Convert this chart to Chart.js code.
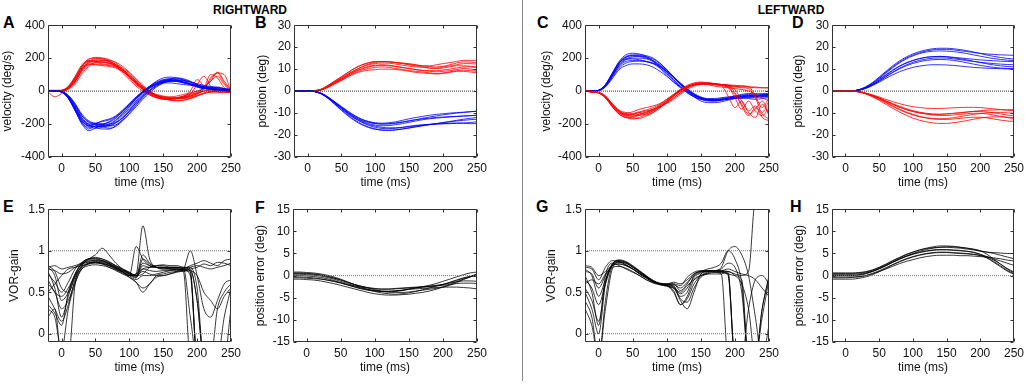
<!DOCTYPE html>
<html>
<head>
<meta charset="utf-8">
<script src="https://cdn.jsdelivr.net/npm/chart.js@4.4.1/dist/chart.umd.min.js"></script>
<style>
  html,body{margin:0;padding:0;background:#fff;}
  #wrap{position:relative;width:1028px;height:385px;overflow:hidden;background:#fff;font-family:"Liberation Sans",Arial,sans-serif;}
  canvas{position:absolute;}
  .lbl{position:absolute;font-weight:bold;color:#000;line-height:16px;font-size:16px;}
  .hdr{position:absolute;font-weight:bold;color:#000;font-size:12px;line-height:12px;transform:translateX(-50%);white-space:nowrap;}
  #divider{position:absolute;left:522px;top:0;width:1px;height:381px;background:#888;}
</style>
</head>
<body>
<div id="wrap">
  <div class="hdr" style="left:250px;top:4px;">RIGHTWARD</div>
  <div class="hdr" style="left:791px;top:4px;">LEFTWARD</div>
  <div id="divider"></div>
  <div class="lbl" style="left:3px;top:15px;">A</div>
  <div class="lbl" style="left:255px;top:15px;">B</div>
  <div class="lbl" style="left:537px;top:15px;">C</div>
  <div class="lbl" style="left:792px;top:15px;">D</div>
  <div class="lbl" style="left:3px;top:199px;">E</div>
  <div class="lbl" style="left:255px;top:200px;">F</div>
  <div class="lbl" style="left:536px;top:199px;">G</div>
  <div class="lbl" style="left:790px;top:199px;">H</div>
</div>
<script>
// ---------- DATA ----------
const time = [-20,-10,0,10,20,30,40,50,60,70,80,90,100,110,120,130,140,150,160,170,180,190,200,210,220,230,240,250];
const timeTicks = [0,50,100,150,200,250];
const velTicks = [-400,-200,0,200,400];
const posTicks = [-30,-20,-10,0,10,20,30];
const gainTicks = [0,0.5,1,1.5];
const errTicks = [-15,-10,-5,0,5,10,15];

// A: rightward velocity (deg/s)
const rightVelRed = [
  [0,0,2,20,70,150,195,200,195,180,150,110,70,30,0,-25,-40,-45,-45,-40,-30,-20,-10,0,5,5,0,-5],
  [0,0,5,30,90,160,185,180,175,170,150,120,80,40,10,-15,-30,-40,-45,-45,-40,-30,-15,0,10,10,5,0],
  [-5,-35,-15,15,60,130,170,180,185,180,160,130,90,50,15,-10,-25,-35,-40,-40,-35,-25,-10,20,60,90,40,-5],
  [5,5,5,25,80,140,165,160,155,150,140,120,90,55,20,-5,-20,-30,-40,-45,-45,-40,-20,10,80,110,50,0],
  [0,0,0,15,55,120,160,170,175,170,160,140,110,70,30,0,-25,-45,-55,-60,-55,-45,-30,-10,0,5,0,-5],
  [0,0,3,20,65,135,175,190,190,180,160,125,85,45,10,-20,-40,-50,-50,-45,-35,0,70,30,-10,-10,-5,0],
  [0,0,2,18,60,125,160,160,160,155,145,120,90,55,20,-10,-30,-40,-45,-40,-30,-15,0,20,100,80,20,0],
  [0,0,4,25,85,150,180,175,165,160,150,130,100,60,25,-5,-25,-35,-35,-30,-20,-10,0,20,60,110,100,0],
  [0,0,3,22,75,145,190,205,200,185,160,125,85,45,10,-20,-38,-48,-50,-48,-42,-35,-25,-15,-5,0,5,5],
  [0,0,1,12,45,105,150,175,185,185,175,150,115,75,35,0,-28,-45,-55,-58,-55,-45,-30,-15,-5,0,-5,-10],
  [0,0,2,16,58,128,178,198,200,192,170,135,92,50,12,-18,-36,-45,-48,-46,-40,-30,-15,15,70,115,60,5],
  [0,0,3,24,80,150,182,185,178,168,155,132,100,62,25,-8,-30,-42,-46,-44,-36,-20,40,90,30,-5,-10,-5]
];
const rightVelBlue = [
  [0,0,-5,-40,-110,-190,-230,-210,-200,-190,-165,-125,-80,-40,0,30,55,70,75,70,55,40,25,15,10,10,5,0],
  [0,0,-5,-35,-100,-170,-200,-200,-200,-210,-190,-150,-105,-60,-15,20,45,60,65,60,50,40,30,20,15,10,10,5],
  [0,0,-3,-30,-90,-160,-200,-220,-230,-230,-210,-170,-120,-70,-25,15,45,65,75,80,75,60,40,25,15,10,5,0],
  [0,0,-5,-45,-120,-195,-220,-200,-180,-170,-150,-115,-75,-35,0,25,40,50,50,45,40,35,30,25,20,15,10,5],
  [0,0,-4,-35,-95,-165,-205,-215,-215,-210,-195,-160,-115,-70,-30,5,35,55,70,75,70,55,35,20,10,5,5,0],
  [0,0,-6,-45,-115,-185,-210,-195,-185,-175,-155,-120,-80,-40,-5,25,50,65,70,65,55,40,25,15,20,25,15,5],
  [0,0,-5,-40,-105,-175,-210,-215,-210,-200,-175,-135,-90,-45,-5,30,60,80,85,80,65,45,30,20,15,10,5,0],
  [0,0,-3,-30,-85,-150,-190,-205,-215,-225,-215,-180,-135,-85,-40,0,30,50,60,60,55,45,35,25,20,15,10,5],
  [0,0,-4,-38,-108,-180,-215,-225,-220,-205,-180,-140,-95,-50,-10,20,40,55,60,58,50,42,35,30,25,20,15,10],
  [0,0,-2,-25,-75,-140,-180,-195,-200,-200,-190,-165,-125,-80,-35,5,35,55,65,68,65,55,40,25,15,10,5,0],
  [0,0,-4,-42,-118,-200,-240,-225,-205,-185,-160,-125,-85,-45,-8,25,48,62,66,62,52,40,28,18,12,8,5,2],
  [0,0,-3,-28,-82,-148,-185,-200,-208,-212,-205,-178,-140,-95,-50,-10,25,48,60,64,62,55,45,35,28,22,15,10]
];
// B: rightward position (deg)
const rightPosRed = [
  [0,0,0,0.2,0.8,2.5,4.5,6.5,8.5,10.5,12,13,13.5,13.5,13.3,13,12.8,12.5,12,11.5,11.5,12,12.5,13,13.5,14,14,14],
  [0,0,0,0.2,0.8,2.3,4.2,6,8,9.5,11,12,12.5,12.8,12.7,12.3,11.8,11.3,11,10.8,10.5,10.5,11,11.5,12,12.5,12.5,12.3],
  [0,0,0,0.1,0.6,2,3.8,5.5,7.3,9,10.3,11.3,11.8,12,11.8,11.3,10.8,10.3,9.8,9.5,9.3,9.3,9.6,10,10.5,11,11,10.5],
  [0,0,0,0.1,0.5,1.8,3.5,5,6.8,8.3,9.5,10.3,10.8,11,10.8,10.3,9.8,9.3,9,8.7,8.3,8,8.3,8.8,9.3,9.5,9.3,9],
  [0,0,0,0.2,0.7,2.2,4,5.8,7.7,9.5,11,12.3,13,13.3,13.3,13,12.5,12,11.5,11,10.5,10.3,10.5,11,11.5,11.5,11.3,11],
  [0,0,0,0.1,0.5,1.6,3.2,4.8,6.5,8,9,9.5,9.8,10,10,9.8,9.5,9,8.5,8.2,8,7.8,8,8.5,9,9,8.7,8.3],
  [0,0,0,0.2,0.9,2.6,4.6,6.6,8.6,10.4,11.8,12.8,13.3,13.5,13.4,13,12.6,12.2,11.8,11.5,11.2,11,11.3,12,12.8,13.3,13.2,13],
  [0,0,0,0.1,0.6,2,3.7,5.4,7.2,8.8,10,11,11.5,11.7,11.5,11.2,10.7,10.2,9.7,9.3,9,8.8,9,9.3,9.8,10.3,10,9.5]
];
const rightPosBlue = [
  [0,0,0,-0.2,-1.2,-3,-5.5,-8,-10.5,-12.5,-14,-15.2,-16,-16.5,-16.7,-16.7,-16.5,-16.2,-15.8,-15.5,-15.2,-15,-14.8,-14.6,-14.5,-14.5,-14.3,-14],
  [0,0,0,-0.2,-1,-2.8,-5,-7.5,-9.8,-11.8,-13.3,-14.3,-14.8,-15,-14.8,-14.5,-14,-13.5,-13,-12.6,-12.3,-12,-11.8,-11.6,-11.5,-11.3,-11.2,-11],
  [0,0,0,-0.2,-1.2,-3.2,-5.8,-8.5,-11,-13.2,-15,-16.3,-17.2,-17.7,-17.8,-17.6,-17.2,-16.7,-16.2,-15.7,-15.2,-14.8,-14.4,-14,-13.6,-13.3,-13,-12.8],
  [0,0,0,-0.1,-0.9,-2.6,-4.8,-7,-9.2,-11.2,-12.8,-13.8,-14.4,-14.6,-14.4,-14,-13.3,-12.6,-12,-11.5,-11,-10.6,-10.3,-10,-9.8,-9.6,-9.4,-9.2],
  [0,0,0,-0.2,-1.1,-3,-5.4,-7.9,-10.3,-12.4,-14.2,-15.6,-16.5,-17,-17.1,-16.9,-16.5,-16,-15.6,-15.3,-15.1,-15,-14.9,-14.8,-14.7,-14.7,-14.8,-14.8],
  [0,0,0,-0.2,-1,-2.9,-5.2,-7.6,-10,-12,-13.6,-14.8,-15.5,-15.8,-15.7,-15.3,-14.8,-14.2,-13.6,-13,-12.6,-12.3,-12,-11.8,-11.6,-11.4,-11.2,-11],
  [0,0,0,-0.2,-1.3,-3.3,-6,-8.8,-11.4,-13.6,-15.3,-16.6,-17.4,-17.8,-17.9,-17.7,-17.3,-16.8,-16.3,-15.8,-15.3,-14.8,-14.3,-13.8,-13.3,-12.8,-12.4,-12],
  [0,0,0,-0.1,-1,-2.7,-5,-7.3,-9.5,-11.4,-12.9,-14,-14.7,-15,-15,-14.7,-14.2,-13.6,-13,-12.4,-11.8,-11.3,-10.8,-10.4,-10,-9.7,-9.4,-9.1]
];
// C: leftward velocity (deg/s)
const leftVelBlue = [
  [0,0,5,40,110,180,220,230,225,210,180,140,95,55,20,-10,-35,-50,-55,-55,-50,-45,-40,-35,-35,-30,-30,-25],
  [0,0,4,35,100,170,205,215,215,205,185,150,110,70,30,0,-25,-40,-50,-50,-45,-40,-35,-30,-30,-30,-25,-20],
  [0,0,3,25,75,130,155,165,165,160,145,120,90,55,25,-5,-30,-45,-55,-55,-50,-40,-30,-20,-15,-15,-20,-20],
  [0,0,5,38,105,175,210,220,220,215,200,170,130,85,40,0,-35,-60,-70,-70,-65,-55,-45,-40,-45,-50,-45,-40],
  [0,0,4,30,90,155,190,200,200,195,180,155,120,80,40,5,-25,-45,-55,-60,-55,-50,-45,-45,-40,-40,-35,-35],
  [0,0,5,40,105,170,195,195,190,180,165,140,105,65,25,-10,-35,-50,-60,-60,-55,-45,-35,-30,-25,-30,-35,-30],
  [0,0,4,32,90,150,180,185,185,180,170,150,120,85,50,15,-15,-35,-45,-45,-40,-35,-30,-25,-20,-20,-15,-15],
  [0,0,5,36,100,168,205,215,210,200,185,160,125,85,45,10,-20,-40,-50,-52,-50,-45,-40,-35,-30,-25,-25,-20],
  [0,0,4,34,95,160,195,208,212,208,195,168,130,88,45,8,-22,-42,-52,-56,-54,-48,-42,-38,-36,-34,-30,-28],
  [0,0,3,28,82,140,170,180,182,178,168,148,118,82,45,10,-20,-40,-52,-56,-54,-48,-40,-32,-28,-26,-24,-22]
];
const leftVelRed = [
  [0,-5,-10,-35,-85,-130,-150,-160,-145,-130,-110,-85,-55,-25,5,30,45,50,50,45,40,30,-40,-110,-60,-120,-150,-100],
  [0,-5,-8,-30,-75,-115,-130,-135,-125,-115,-100,-80,-50,-20,5,25,40,45,45,40,40,35,30,30,25,20,20,20],
  [5,0,-10,-40,-95,-140,-160,-155,-140,-125,-110,-90,-60,-25,10,35,50,55,50,45,35,-30,-100,-60,-120,-90,-160,-180],
  [0,-3,-8,-30,-80,-125,-140,-140,-130,-120,-110,-95,-75,-50,-20,10,30,40,45,40,35,30,25,20,15,-40,-130,-60],
  [0,-5,-12,-40,-90,-135,-155,-165,-165,-150,-130,-100,-65,-30,0,25,40,45,45,40,35,20,-20,-80,-140,-110,-60,-150],
  [0,-5,-10,-35,-80,-120,-135,-125,-110,-100,-90,-75,-50,-20,10,30,40,45,40,30,25,20,15,10,0,-20,-40,-60],
  [0,-4,-10,-38,-88,-130,-145,-140,-130,-145,-130,-100,-65,-30,0,25,38,42,40,38,35,25,10,-60,-130,-160,-80,-140],
  [0,-5,-9,-32,-78,-120,-140,-145,-140,-130,-115,-95,-70,-40,-10,20,40,50,50,45,40,35,30,25,25,25,20,20],
  [0,-4,-9,-33,-82,-125,-145,-150,-148,-138,-122,-100,-72,-42,-10,18,36,44,46,44,40,34,-10,-90,-150,-100,-140,-170],
  [0,-6,-12,-42,-95,-140,-160,-170,-160,-140,-118,-92,-62,-30,0,24,38,44,44,42,40,38,35,32,28,-30,-100,-40]
];
// D: leftward position (deg)
const leftPosBlue = [
  [0,0,0,0.1,0.6,1.8,3.6,6,8.6,11,13.2,15,16.4,17.5,18.3,18.8,19,19,18.8,18.4,18,17.6,17.2,16.9,16.7,16.5,16.4,16.3],
  [0,0,0,0.1,0.5,1.6,3.2,5.3,7.5,9.6,11.4,12.9,14,14.8,15.4,15.7,15.8,15.7,15.4,15.1,14.8,14.5,14.2,14,13.8,13.6,13.5,13.4],
  [0,0,0,0.1,0.4,1.2,2.5,4.1,5.8,7.4,8.8,9.9,10.8,11.4,11.8,12,12,11.9,11.7,11.4,11.1,10.8,10.6,10.4,10.3,10.2,10.1,10],
  [0,0,0,0.1,0.6,1.7,3.4,5.7,8.2,10.6,12.8,14.6,16,17.1,17.8,18.2,18.3,18.2,18,17.6,17.1,16.5,15.9,15.3,14.8,14.4,14.1,13.9],
  [0,0,0,0.1,0.5,1.5,3,5,7.2,9.3,11.2,12.7,13.9,14.8,15.4,15.7,15.8,15.6,15.2,14.7,14.2,13.6,13,12.4,11.9,11.5,11.2,11],
  [0,0,0,0.1,0.7,2,3.9,6.4,9,11.5,13.7,15.5,16.9,18,18.8,19.3,19.5,19.5,19.3,18.9,18.4,17.8,17.1,16.4,15.8,15.3,14.9,14.6],
  [0,0,0,0.1,0.5,1.4,2.8,4.6,6.6,8.6,10.4,11.9,13.1,14,14.6,15,15.1,15,14.7,14.3,13.9,13.5,13.1,12.8,12.5,12.3,12.1,12],
  [0,0,0,0.1,0.4,1.3,2.7,4.5,6.5,8.4,10.1,11.5,12.6,13.4,14,14.3,14.4,14.3,14,13.5,12.9,12.3,11.7,11.2,10.8,10.5,10.3,10.2]
];
const leftPosRed = [
  [0,0,0,0,-0.3,-1,-2,-3.3,-4.7,-6,-7.3,-8.4,-9.3,-10,-10.5,-10.9,-11.1,-11.1,-10.9,-10.6,-10.3,-10.1,-10.1,-10.4,-10.9,-11.5,-12.1,-12.5],
  [0,0,0,0,-0.4,-1.2,-2.4,-3.8,-5.4,-7,-8.5,-9.8,-10.9,-11.7,-12.3,-12.7,-12.9,-12.9,-12.7,-12.4,-12.1,-11.9,-11.9,-12.2,-12.7,-13.2,-13.6,-13.8],
  [0,0,0,0,-0.3,-0.9,-1.7,-2.7,-3.8,-4.8,-5.7,-6.5,-7.1,-7.5,-7.8,-7.9,-7.9,-7.8,-7.6,-7.5,-7.4,-7.4,-7.5,-7.8,-8.1,-8.4,-8.7,-9],
  [0,0,0,0,-0.4,-1.3,-2.6,-4.2,-6,-7.8,-9.5,-11,-12.3,-13.3,-14,-14.5,-14.7,-14.7,-14.4,-14,-13.4,-12.8,-12.3,-11.9,-11.7,-11.7,-11.9,-12.1],
  [0,0,0,0,-0.3,-1,-2,-3.2,-4.6,-6,-7.3,-8.4,-9.3,-9.9,-10.3,-10.6,-10.6,-10.4,-10.1,-9.8,-9.5,-9.3,-9.3,-9.5,-9.9,-10.4,-10.9,-11.3],
  [0,0,0,0,-0.4,-1.1,-2.2,-3.6,-5.1,-6.7,-8.2,-9.5,-10.6,-11.5,-12.1,-12.5,-12.6,-12.5,-12.1,-11.6,-11.1,-10.6,-10.2,-9.9,-9.7,-9.7,-9.9,-10.1],
  [0,0,0,0,-0.3,-1,-1.9,-3.1,-4.4,-5.7,-6.9,-8,-8.9,-9.6,-10.1,-10.4,-10.5,-10.4,-10.2,-9.9,-9.6,-9.2,-8.9,-8.7,-8.6,-8.5,-8.5,-8.4]
];
// E: rightward VOR gain
const rightGain = [
  [0.75,0.55,0.2,0.45,0.7,0.85,0.9,0.9,0.88,0.84,0.8,0.76,0.72,0.68,0.82,0.8,0.8,0.8,0.8,0.8,0.79,0.75,-0.3,-0.3,-0.3,-0.3,-0.3,-0.3],
  [0.8,0.82,0.78,0.8,0.82,0.85,0.87,0.88,0.87,0.84,0.8,0.76,0.73,0.7,0.85,0.82,0.8,0.78,0.78,0.77,0.77,0.76,0.4,-0.3,-0.3,-0.3,0.2,0.55],
  [0.3,0.2,-0.2,0.3,0.6,0.8,0.85,0.86,0.85,0.82,0.78,0.74,0.7,0.72,1.3,0.9,0.8,0.78,0.78,0.78,0.77,0.7,-0.3,-0.3,-0.3,-0.3,-0.3,-0.3],
  [0.65,0.5,0.45,0.55,0.7,0.8,0.85,0.87,0.88,0.85,0.8,0.75,0.7,1.05,0.9,0.82,0.8,0.8,0.8,0.8,0.8,0.8,0.55,-0.3,-0.3,0.3,0.5,0.6],
  [0.5,0.6,0.7,0.78,0.8,0.82,0.84,0.85,0.84,0.82,0.79,0.75,0.68,0.62,0.5,0.6,0.68,0.7,0.72,0.75,0.78,0.82,0.85,0.88,0.85,0.82,0.88,0.9],
  [0.8,0.7,0.4,0.5,0.72,0.85,0.9,0.92,0.9,0.87,0.82,0.78,0.74,0.7,0.75,0.72,0.7,0.7,0.72,0.74,0.76,0.8,0.82,0.8,0.78,0.8,0.82,0.85],
  [0.45,0.3,0.15,0.35,0.65,0.78,0.82,0.83,0.82,0.8,0.76,0.72,0.68,0.62,0.55,0.6,0.7,0.72,0.74,0.75,0.78,1.0,0.7,0.3,0.2,0.4,0.6,0.65],
  [0.82,0.75,0.55,0.5,0.68,0.82,0.9,0.95,1.03,0.95,0.85,0.78,0.72,0.7,0.95,0.85,0.8,0.8,0.78,0.78,0.76,0.74,-0.3,-0.3,-0.3,-0.3,-0.3,-0.3],
  [0.6,0.5,0.3,0.4,0.62,0.78,0.84,0.86,0.85,0.82,0.78,0.74,0.7,0.65,0.7,0.7,0.72,0.74,0.76,0.78,0.74,-0.3,-0.3,-0.3,-0.3,-0.3,-0.3,-0.3],
  [0.2,0.3,-0.3,-0.3,0.6,0.82,0.9,0.91,0.9,0.86,0.82,0.78,0.74,0.7,0.72,0.8,0.82,0.82,0.8,0.8,0.78,0.76,0.7,0.5,0.4,0.3,0.45,0.55],
  [0.78,0.76,0.72,0.74,0.8,0.84,0.86,0.86,0.84,0.8,0.77,0.73,0.7,0.72,0.78,0.76,0.75,0.76,0.76,0.76,0.75,0.78,0.8,0.84,0.82,0.86,0.85,0.82],
  [0.35,0.25,0.1,0.5,0.72,0.84,0.88,0.88,0.86,0.83,0.79,0.75,0.71,0.67,0.9,0.84,0.8,0.79,0.79,0.79,0.78,0.2,-0.3,-0.3,-0.3,-0.3,-0.3,-0.3],
  [0.72,0.62,0.5,0.62,0.78,0.86,0.9,0.9,0.88,0.85,0.81,0.77,0.73,0.69,0.78,0.8,0.82,0.83,0.82,0.82,0.8,0.78,0.4,-0.3,-0.3,-0.3,-0.3,0.3]
];
// F: rightward position error (deg)
const rightErr = [
  [0.8,0.8,0.7,0.6,0.4,0.1,-0.3,-0.8,-1.4,-2,-2.6,-3.1,-3.4,-3.6,-3.7,-3.6,-3.4,-3.1,-2.8,-2.5,-2.2,-1.8,-1.3,-0.8,-0.3,0.2,0.6,0.8],
  [0.3,0.3,0.2,0.1,-0.1,-0.4,-0.8,-1.3,-1.8,-2.3,-2.8,-3.2,-3.6,-3.9,-4.1,-4.2,-4.1,-3.9,-3.6,-3.2,-2.8,-2.4,-2,-1.5,-1,-0.5,-0.2,0],
  [-0.3,-0.3,-0.4,-0.5,-0.7,-1,-1.3,-1.7,-2.1,-2.5,-2.9,-3.2,-3.4,-3.5,-3.5,-3.4,-3.3,-3.1,-3,-2.9,-2.8,-2.7,-2.6,-2.6,-2.6,-2.7,-2.8,-3],
  [-0.8,-0.8,-0.9,-1,-1.2,-1.5,-1.8,-2.2,-2.6,-3,-3.4,-3.8,-4.1,-4.3,-4.4,-4.4,-4.3,-4.2,-4,-3.8,-3.5,-3.1,-2.6,-2,-1.4,-0.8,-0.3,0.2],
  [0.5,0.5,0.4,0.3,0.1,-0.2,-0.6,-1,-1.5,-2,-2.4,-2.7,-2.9,-3,-3,-2.9,-2.8,-2.7,-2.6,-2.5,-2.4,-2.3,-2.2,-2,-1.8,-1.7,-1.7,-1.8],
  [0,0,-0.1,-0.2,-0.4,-0.7,-1.1,-1.6,-2.1,-2.6,-3,-3.3,-3.5,-3.6,-3.6,-3.5,-3.3,-3,-2.8,-2.6,-2.4,-2.2,-2,-1.6,-1.1,-0.6,-0.2,0.4],
  [-0.5,-0.5,-0.6,-0.7,-0.8,-1,-1.3,-1.6,-2,-2.3,-2.6,-2.8,-3,-3.1,-3.1,-3,-2.9,-2.8,-2.7,-2.6,-2.5,-2.3,-2,-1.7,-1.4,-1.2,-1.2,-1.3],
  [0.6,0.6,0.5,0.4,0.2,-0.1,-0.5,-1,-1.5,-2,-2.4,-2.8,-3.2,-3.5,-3.7,-3.8,-3.8,-3.7,-3.5,-3.3,-3.1,-2.9,-2.6,-2.2,-1.6,-0.9,-0.3,0.3]
];
// G: leftward VOR gain
const leftGain = [
  [0.7,0.5,0.1,0.7,0.85,0.82,0.78,0.74,0.7,0.65,0.62,0.6,0.58,0.55,0.45,0.5,0.7,0.75,0.75,0.74,0.72,-0.3,-0.3,-0.3,-0.3,-0.3,-0.3,-0.3],
  [0.8,0.78,0.65,0.8,0.88,0.87,0.83,0.78,0.73,0.68,0.63,0.6,0.6,0.6,0.52,0.6,0.72,0.75,0.76,0.76,0.8,1.0,1.05,0.95,0.7,0.2,-0.3,-0.3],
  [0.4,0.2,-0.3,0.4,0.82,0.88,0.86,0.81,0.75,0.69,0.63,0.59,0.58,0.56,0.4,0.3,0.5,0.72,0.75,0.76,0.76,0.75,0.72,0.7,0.75,1.6,1.6,1.6],
  [0.6,0.65,0.6,0.72,0.8,0.81,0.79,0.75,0.7,0.65,0.61,0.59,0.57,0.55,0.5,0.58,0.65,0.7,0.73,0.76,0.75,0.72,-0.3,-0.3,0.3,0.65,0.7,0.6],
  [0.5,0.3,0,0.6,0.82,0.86,0.83,0.78,0.72,0.67,0.63,0.6,0.58,0.5,0.35,0.45,0.65,0.7,0.72,0.72,0.72,0.75,0.7,0.6,0.3,-0.3,0.2,0.65],
  [0.75,0.72,0.55,0.7,0.82,0.84,0.82,0.78,0.72,0.67,0.62,0.6,0.6,0.62,0.6,0.65,0.72,0.75,0.78,0.8,0.85,1.0,0.9,0.6,-0.3,-0.3,-0.3,-0.3],
  [0.55,0.4,0.15,0.62,0.84,0.87,0.85,0.8,0.74,0.68,0.63,0.6,0.59,0.58,0.42,0.38,0.55,0.68,0.72,0.74,0.74,0.7,-0.3,-0.3,-0.3,-0.3,-0.3,0.1],
  [0.82,0.8,0.7,0.75,0.82,0.84,0.82,0.78,0.73,0.68,0.63,0.6,0.59,0.59,0.55,0.62,0.7,0.74,0.76,0.76,0.76,0.78,0.75,0.72,0.7,0.65,0.55,0.45],
  [0.3,0.1,-0.3,0.3,0.78,0.86,0.85,0.8,0.75,0.69,0.64,0.6,0.58,0.52,0.35,0.42,0.6,0.7,0.74,0.75,0.75,0.74,-0.3,-0.3,-0.3,-0.3,0.3,0.7],
  [0.65,0.55,0.35,0.6,0.83,0.88,0.86,0.81,0.75,0.69,0.64,0.6,0.59,0.57,0.48,0.55,0.68,0.73,0.75,0.76,0.78,0.85,0.8,0.5,-0.3,-0.3,0.3,0.68],
  [0.78,0.7,0.45,0.65,0.84,0.89,0.87,0.82,0.76,0.7,0.64,0.61,0.6,0.6,0.58,0.68,0.74,0.76,0.76,0.75,0.74,0.72,0.7,0.65,-0.3,-0.3,-0.3,-0.3]
];
// H: leftward position error (deg)
const leftErr = [
  [0.6,0.6,0.6,0.6,0.7,0.9,1.3,1.9,2.6,3.4,4.1,4.8,5.3,5.8,6.1,6.3,6.4,6.4,6.3,6.2,6,5.8,5.5,5.3,5.2,5.1,5,5],
  [0.3,0.3,0.3,0.3,0.4,0.6,1,1.6,2.3,3,3.7,4.3,4.8,5.2,5.5,5.7,5.8,5.8,5.7,5.6,5.5,5.3,4.8,4,3,2,1,0.3],
  [-0.3,-0.3,-0.3,-0.3,-0.2,0,0.4,0.9,1.5,2.1,2.7,3.2,3.6,4,4.3,4.5,4.6,4.6,4.6,4.5,4.5,4.4,4.3,4.2,4,3.8,3.5,3.3],
  [0,0,0,0,0.1,0.4,0.9,1.5,2.2,3,3.7,4.4,5,5.5,5.9,6.2,6.4,6.5,6.5,6.4,6.2,6,5.6,4.8,3.7,2.6,1.5,0.6],
  [-0.8,-0.8,-0.8,-0.8,-0.6,-0.3,0.2,0.9,1.6,2.4,3.1,3.7,4.2,4.6,4.9,5.1,5.2,5.2,5.1,5,4.9,4.8,4.6,4.2,3.5,2.6,1.6,0.8],
  [0.5,0.5,0.5,0.5,0.6,0.8,1.2,1.8,2.5,3.3,4,4.7,5.3,5.8,6.2,6.5,6.7,6.7,6.6,6.4,6.2,5.9,5.6,5.3,5,4.6,4.2,3.8],
  [-0.5,-0.5,-0.5,-0.4,-0.3,0,0.5,1.1,1.8,2.5,3.2,3.8,4.3,4.7,5,5.2,5.3,5.3,5.2,5.1,5,4.8,4.5,4,3.2,2.2,1.2,0.4],
  [0.1,0.1,0.1,0.1,0.2,0.5,1,1.6,2.3,3.1,3.8,4.4,4.9,5.3,5.6,5.8,5.9,5.9,5.8,5.7,5.5,5.2,4.8,4.3,3.8,3.3,2.8,2.3]
];

// ---------- RENDERING ----------
const FONT = {family:'"Liberation Sans", Arial, sans-serif', size:12};
const RED = 'rgba(255,0,0,0.8)', BLUE = 'rgba(0,0,255,0.8)', BLACK = 'rgba(0,0,0,0.78)';

const matlabFrame = {
  id:'matlabFrame',
  afterDatasetsDraw(chart){
    const {ctx, chartArea:a, scales:{x,y}} = chart;
    ctx.save();
    ctx.strokeStyle = '#333';
    ctx.lineWidth = 1;
    const L = Math.round(a.left)+0.5, R = Math.round(a.right)-0.5;
    const T = Math.round(a.top)+0.5, B = Math.round(a.bottom)-0.5;
    ctx.beginPath();
    ctx.rect(L, T, R-L, B-T);
    x.ticks.forEach(t => {
      const px = Math.round(x.getPixelForValue(t.value))+0.5;
      ctx.moveTo(px, B); ctx.lineTo(px, B-3);
      ctx.moveTo(px, T); ctx.lineTo(px, T+3);
    });
    y.ticks.forEach(t => {
      const py = Math.round(y.getPixelForValue(t.value))+0.5;
      ctx.moveTo(L, py); ctx.lineTo(L+3, py);
      ctx.moveTo(R, py); ctx.lineTo(R-3, py);
    });
    ctx.stroke();
    ctx.restore();
  }
};

function toPoints(arr){ return time.map((t,i)=>({x:t, y:arr[i]})); }

function makePanel(p){
  const cv = document.createElement('canvas');
  cv.width = p.w; cv.height = p.h;
  cv.style.left = p.left+'px'; cv.style.top = p.top+'px';
  cv.style.width = p.w+'px'; cv.style.height = p.h+'px';
  document.getElementById('wrap').appendChild(cv);

  const datasets = [];
  p.refs.forEach(v => datasets.push({
    data:[{x:time[0], y:v},{x:time[time.length-1], y:v}],
    borderColor:p.refColor, borderWidth:1, borderDash:[1,1], order:-1,
    cubicInterpolationMode:'default', tension:0
  }));
  p.groups.forEach(g => g.series.forEach(s => datasets.push({
    data:toPoints(s), borderColor:g.color, borderWidth:1
  })));

  new Chart(cv.getContext('2d'), {
    type:'line',
    data:{datasets},
    plugins:[matlabFrame],
    options:{
      responsive:false, animation:false, events:[], devicePixelRatio:1,
      layout:{padding:{top:10, right:p.pr, left:0, bottom:0}},
      plugins:{legend:{display:false}, tooltip:{enabled:false}},
      elements:{point:{radius:0}, line:{borderWidth:1, cubicInterpolationMode:'monotone'}},
      scales:{
        x:{
          type:'linear', min:-20, max:250,
          afterBuildTicks:s => { s.ticks = timeTicks.map(v=>({value:v})); },
          afterFit:s => { s.height = 35; },
          grid:{display:false, drawTicks:false}, border:{display:false},
          ticks:{padding:4, font:FONT, color:'#111', autoSkip:false, maxRotation:0, callback:v=>String(v)},
          title:{display:true, text:'time (ms)', font:FONT, color:'#111', padding:{top:0,bottom:2}}
        },
        y:{
          type:'linear', min:p.ymin, max:p.ymax,
          afterBuildTicks:s => { s.ticks = p.yticks.map(v=>({value:v})); },
          afterFit:s => { s.width = p.yw; },
          grid:{display:false, drawTicks:false}, border:{display:false},
          ticks:{padding:3, font:FONT, color:'#111', autoSkip:false, callback:v=>String(v)},
          title:{display:true, text:p.ytitle, font:FONT, color:'#111', padding:{top:0,bottom:0}}
        }
      }
    }
  });
}

const TOP1 = 15, TOP2 = 199, H = 177;
makePanel({left:0,   top:TOP1, w:245, h:H, yw:48, pr:13, ymin:-400, ymax:400, yticks:velTicks, ytitle:'velocity (deg/s)', refs:[0], refColor:'#333',
  groups:[{color:BLUE, series:rightVelBlue},{color:RED, series:rightVelRed}]});
makePanel({left:255, top:TOP1, w:236, h:H, yw:39, pr:13, ymin:-30, ymax:30, yticks:posTicks, ytitle:'position (deg)', refs:[0], refColor:'#333',
  groups:[{color:BLUE, series:rightPosBlue},{color:RED, series:rightPosRed}]});
makePanel({left:539, top:TOP1, w:244, h:H, yw:46, pr:13, ymin:-400, ymax:400, yticks:velTicks, ytitle:'velocity (deg/s)', refs:[0], refColor:'#333',
  groups:[{color:RED, series:leftVelRed},{color:BLUE, series:leftVelBlue}]});
makePanel({left:791, top:TOP1, w:237, h:H, yw:41, pr:12, ymin:-30, ymax:30, yticks:posTicks, ytitle:'position (deg)', refs:[0], refColor:'#333',
  groups:[{color:RED, series:leftPosRed},{color:BLUE, series:leftPosBlue}]});
makePanel({left:7,   top:TOP2, w:238, h:178, yw:41, pr:13, ymin:-0.1, ymax:1.5, yticks:gainTicks, ytitle:'VOR-gain', refs:[0,1], refColor:'#777',
  groups:[{color:BLACK, series:rightGain}]});
makePanel({left:253, top:TOP2, w:238, h:178, yw:40, pr:13, ymin:-15, ymax:15, yticks:errTicks, ytitle:'position error (deg)', refs:[0], refColor:'#777',
  groups:[{color:BLACK, series:rightErr}]});
makePanel({left:544, top:TOP2, w:239, h:178, yw:41, pr:13, ymin:-0.1, ymax:1.5, yticks:gainTicks, ytitle:'VOR-gain', refs:[0,1], refColor:'#777',
  groups:[{color:BLACK, series:leftGain}]});
makePanel({left:792, top:TOP2, w:236, h:178, yw:40, pr:12, ymin:-15, ymax:15, yticks:errTicks, ytitle:'position error (deg)', refs:[0], refColor:'#777',
  groups:[{color:BLACK, series:leftErr}]});
</script>
</body>
</html>
